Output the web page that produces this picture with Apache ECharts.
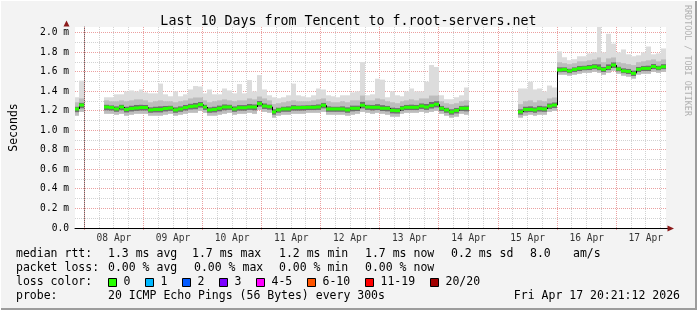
<!DOCTYPE html>
<html><head><meta charset="utf-8">
<script src="https://cdn.jsdelivr.net/npm/echarts@6/dist/echarts.min.js"></script>
<style>html,body{margin:0;padding:0;background:#f3f3f3;}#c{width:697px;height:310px;}</style>
</head><body><div id="c"></div>
<script>
// ---------------- data ----------------
const chartTitle = 'Last 10 Days from Tencent to f.root-servers.net';
const dayLabels = ['08 Apr','09 Apr','10 Apr','11 Apr','12 Apr','13 Apr','14 Apr','15 Apr','16 Apr','17 Apr'];
const dayLabelHours = [12,36,60,84,108,132,156,180,204,228]; // hours after 08 Apr 00:00
const yTickValues = [0,0.2,0.4,0.6,0.8,1.0,1.2,1.4,1.6,1.8,2.0];
const timeStartHour = -3.8, timeEndHour = 236.2;   // 07 Apr ~20:21 .. 17 Apr ~20:21
const binFirstHour = -4, binHours = 2;             // 2-hour consolidated bins
const yMaxMs = 2.06;

// median RTT (ms) per bin
const medianMs = [
 1.22,1.26,null,null,null,null,1.24,1.235,1.22,1.24,
 1.215,1.225,1.23,1.235,1.235,1.21,1.215,1.215,1.225,1.23,
 1.21,1.22,1.235,1.245,1.25,1.265,1.24,1.21,1.215,1.227,
 1.24,1.24,1.22,1.233,1.233,1.24,1.24,1.275,1.25,1.243,
 1.19,1.21,1.22,1.22,1.233,1.233,1.235,1.237,1.237,1.24,
 1.258,1.22,1.22,1.22,1.22,1.21,1.227,1.227,1.258,1.24,
 1.237,1.237,1.227,1.227,1.205,1.202,1.227,1.237,1.237,1.237,
 1.25,1.24,1.255,1.268,1.227,1.21,1.19,1.205,1.227,1.227,
 null,null,null,null,null,null,null,null,null,null,
 1.19,1.215,1.215,1.21,1.223,1.22,1.25,1.26,1.62,1.625,
 1.61,1.625,1.636,1.64,1.645,1.653,1.64,1.626,1.645,1.67,
 1.63,1.61,1.605,1.585,1.626,1.636,1.636,1.655,1.64,1.653
];
// lowest ping (ms)
const minMs = [
 1.15,1.19,null,null,null,null,1.17,1.17,1.16,1.17,
 1.15,1.16,1.17,1.17,1.17,1.15,1.15,1.15,1.16,1.17,
 1.15,1.16,1.17,1.18,1.18,1.20,1.18,1.15,1.15,1.16,
 1.17,1.18,1.16,1.17,1.17,1.18,1.17,1.21,1.19,1.18,
 1.13,1.15,1.16,1.16,1.17,1.17,1.17,1.18,1.18,1.18,
 1.19,1.16,1.16,1.16,1.16,1.15,1.16,1.17,1.19,1.18,
 1.17,1.18,1.17,1.16,1.14,1.14,1.17,1.18,1.18,1.18,
 1.19,1.18,1.19,1.20,1.17,1.15,1.13,1.14,1.17,1.16,
 null,null,null,null,null,null,null,null,null,null,
 1.13,1.15,1.16,1.15,1.16,1.16,1.19,1.20,1.57,1.57,
 1.56,1.57,1.58,1.59,1.59,1.60,1.59,1.57,1.59,1.61,
 1.58,1.56,1.55,1.53,1.57,1.58,1.58,1.60,1.59,1.60
];
// upper edge of the dense smoke (ms)
const upperMs = [
 1.29,1.33,null,null,null,null,1.31,1.30,1.30,1.31,
 1.30,1.31,1.32,1.32,1.31,1.29,1.30,1.31,1.30,1.30,
 1.29,1.30,1.31,1.33,1.34,1.34,1.31,1.29,1.30,1.31,
 1.32,1.31,1.30,1.31,1.31,1.33,1.32,1.35,1.33,1.31,
 1.27,1.28,1.29,1.30,1.31,1.30,1.30,1.30,1.31,1.32,
 1.33,1.30,1.29,1.29,1.30,1.29,1.31,1.31,1.36,1.31,
 1.31,1.33,1.32,1.30,1.29,1.28,1.30,1.31,1.32,1.31,
 1.33,1.33,1.36,1.36,1.30,1.28,1.27,1.28,1.30,1.31,
 null,null,null,null,null,null,null,null,null,null,
 1.27,1.30,1.31,1.29,1.31,1.30,1.33,1.34,1.70,1.69,
 1.68,1.69,1.71,1.71,1.72,1.73,1.75,1.70,1.74,1.75,
 1.70,1.69,1.68,1.67,1.70,1.71,1.72,1.73,1.71,1.73
];
// highest ping (ms)
const maxMs = [
 1.34,1.51,null,null,null,null,1.34,1.34,1.37,1.37,
 1.40,1.41,1.40,1.42,1.39,1.38,1.38,1.48,1.37,1.35,
 1.40,1.35,1.37,1.42,1.455,1.45,1.38,1.42,1.37,1.37,
 1.43,1.41,1.38,1.475,1.38,1.516,1.40,1.567,1.42,1.36,
 1.34,1.33,1.34,1.36,1.48,1.36,1.35,1.34,1.36,1.43,
 1.42,1.36,1.35,1.34,1.36,1.36,1.39,1.40,1.70,1.36,
 1.37,1.53,1.52,1.34,1.40,1.36,1.35,1.40,1.43,1.40,
 1.40,1.50,1.67,1.65,1.36,1.32,1.32,1.34,1.36,1.44,
 null,null,null,null,null,null,null,null,null,null,
 1.43,1.43,1.50,1.42,1.43,1.40,1.46,1.44,1.81,1.75,
 1.72,1.73,1.76,1.76,1.79,1.80,2.06,1.80,1.99,1.89,
 1.80,1.83,1.78,1.76,1.77,1.80,1.86,1.78,1.79,1.84
];

const rttStats = ['1.3 ms avg','1.7 ms max','1.2 ms min','1.7 ms now','0.2 ms sd','8.0','am/s'];
const lossStats = ['0.00 % avg','0.00 % max','0.00 % min','0.00 % now'];
const lossLabels = ['0','1','2','3','4-5','6-10','11-19','20/20'];
const lossColors = ['#26ff00','#00b8ff','#0059ff','#7a00ff','#ff00ff','#ff5500','#ff0000','#a10000'];
const probeText = '20 ICMP Echo Pings (56 Bytes) every 300s';
const stampText = 'Fri Apr 17 20:21:12 2026';

// ---------------- build ----------------
const FONT = '"DejaVu Sans Mono", monospace';
const smokeData = [], medianData = [];
for (let i = 0; i < medianMs.length; i++) {
  if (medianMs[i] == null) continue;
  const t0 = binFirstHour + i * binHours, t1 = t0 + binHours;
  smokeData.push([t0, t1, minMs[i], medianMs[i], upperMs[i], maxMs[i]]);
  const prev = i > 0 && medianMs[i - 1] != null ? medianMs[i - 1] : NaN;
  medianData.push([t0, t1, medianMs[i], prev]);
}
const vGrid = [];
for (let h = 0; h <= timeEndHour; h += 6) vGrid.push([h, h % 24 === 0 ? 1 : 0]);
const hGrid = [];
for (let k = 1; k <= 20; k++) hGrid.push([k / 10, k % 2 === 0 ? 1 : 0]);

const MAJOR = '#eba0a0', MINOR = '#d2d2d2';

function clip(r, cs) {
  return echarts.graphic.clipRectByRect(r, {x: cs.x, y: cs.y, width: cs.width, height: cs.height});
}

const graphics = [];
function txt(x, y, s, extra) {
  graphics.push(Object.assign({type: 'text', x: x, y: y, silent: true,
    style: {text: s, font: '11.5px ' + FONT, fill: '#000', textAlign: 'left', align: 'left',
            textVerticalAlign: 'middle', verticalAlign: 'middle'}}, extra || {}));
}
const rowY = [254, 268, 282, 296];
txt(16, rowY[0], 'median rtt:');
[108, 192, 279, 365, 451, 530, 573].forEach((x, i) => txt(x, rowY[0], rttStats[i]));
txt(16, rowY[1], 'packet loss:');
[108, 194, 279, 365].forEach((x, i) => txt(x, rowY[1], lossStats[i]));
txt(16, rowY[2], 'loss color:');
[108, 145, 182, 219, 256, 307, 365, 430].forEach((x, i) => {
  graphics.push({type: 'rect', silent: true, shape: {x: x + 0.5, y: 278.5, width: 8, height: 8},
    style: {fill: lossColors[i], stroke: '#000', lineWidth: 1}});
  txt(x + 15.5, rowY[2], lossLabels[i]);
});
txt(16, rowY[3], 'probe:');
txt(108, rowY[3], probeText);
graphics.push({type: 'text', x: 680, y: rowY[3], silent: true,
  style: {text: stampText, font: '11.5px ' + FONT, fill: '#000', textAlign: 'right', align: 'right',
          textVerticalAlign: 'middle', verticalAlign: 'middle'}});
graphics.push({type: 'text', x: 687, y: 5, rotation: -Math.PI / 2, silent: true,
  style: {text: 'RRDTOOL / TOBI OETIKER', font: '8.4px ' + FONT, fill: '#b0b0b0', textAlign: 'left', align: 'left',
          textVerticalAlign: 'middle', verticalAlign: 'middle'}});
// axis arrows
graphics.push({type: 'polygon', silent: true, shape: {points: [[66.5, 20.5], [63.5, 26.5], [69.5, 26.5]]}, style: {fill: '#8b1a1a'}});
graphics.push({type: 'line', silent: true, shape: {x1: 666, y1: 228.5, x2: 669, y2: 228.5}, style: {stroke: '#000', lineWidth: 1}});
graphics.push({type: 'polygon', silent: true, shape: {points: [[674, 228.5], [667.5, 225.5], [667.5, 231.5]]}, style: {fill: '#8b1a1a'}});
// frame
graphics.push({type: 'rect', silent: true, shape: {x: 0, y: 308, width: 697, height: 2}, style: {fill: '#9c9c9c'}});
graphics.push({type: 'rect', silent: true, shape: {x: 695, y: 0, width: 2, height: 310}, style: {fill: '#9c9c9c'}});
graphics.push({type: 'rect', silent: true, shape: {x: 0, y: 0, width: 697, height: 1}, style: {fill: '#ffffff'}});
graphics.push({type: 'rect', silent: true, shape: {x: 0, y: 0, width: 1, height: 310}, style: {fill: '#ffffff'}});

const chart = echarts.init(document.getElementById('c'), null, {renderer: 'canvas'});
chart.setOption({
  animation: false,
  backgroundColor: '#f3f3f3',
  title: {text: chartTitle, left: 'center', top: 10,
    textStyle: {fontFamily: FONT, fontSize: 13.3, fontWeight: 'normal', color: '#000'}},
  grid: {left: 66, top: 27, width: 600, height: 201, backgroundColor: '#ffffff', show: true, borderWidth: 0},
  xAxis: {type: 'value', min: timeStartHour, max: timeEndHour,
    axisLine: {show: true, onZero: false, lineStyle: {color: '#000', width: 1}},
    axisTick: {show: false}, axisLabel: {show: false}, splitLine: {show: false}},
  yAxis: {type: 'value', min: 0, max: yMaxMs, interval: 0.2,
    axisLine: {show: true, lineStyle: {color: '#666', width: 1}},
    axisTick: {show: false}, splitLine: {show: false},
    axisLabel: {margin: 6, fontFamily: FONT, fontSize: 9.6, color: '#000',
      formatter: v => v > 2.001 ? '' : (v === 0 ? '0.0' : v.toFixed(1) + ' m')},
    name: 'Seconds', nameLocation: 'middle', nameGap: 55, nameRotate: 90,
    nameTextStyle: {fontFamily: FONT, fontSize: 11.5, color: '#000'}},
  graphic: graphics,
  series: [
    {type: 'custom', name: 'vgrid', z: 1, silent: true, data: vGrid,
      renderItem: (params, api) => {
        const cs = params.coordSys;
        const p = api.coord([api.value(0), 0]);
        const x = Math.floor(p[0]) + 0.5;
        return {type: 'line', shape: {x1: x, y1: cs.y, x2: x, y2: cs.y + cs.height + (api.value(1) ? 3 : 0)},
          style: {stroke: api.value(1) ? MAJOR : MINOR, lineWidth: 1, lineDash: [1, 1]}};
      }},
    {type: 'custom', name: 'hgrid', z: 1, silent: true, data: hGrid,
      renderItem: (params, api) => {
        const cs = params.coordSys;
        const p = api.coord([0, api.value(0)]);
        const y = Math.floor(p[1]) + 0.5;
        return {type: 'line', shape: {x1: cs.x, y1: y, x2: cs.x + cs.width, y2: y},
          style: {stroke: api.value(1) ? MAJOR : MINOR, lineWidth: 1, lineDash: [1, 1]}};
      }},
    {type: 'custom', name: 'smoke', z: 2, silent: true, data: smokeData,
      renderItem: (params, api) => {
        const cs = params.coordSys;
        const t0 = api.value(0), t1 = api.value(1);
        const lo = api.value(2), med = api.value(3), up = api.value(4), hi = api.value(5);
        const a = lo + (med - lo) * 0.5, b = med + (up - med) * 0.35;
        const bands = [[up, hi, '#dcdcdc'], [b, up, '#bdbdbd'], [lo, a, '#bdbdbd'], [a, med, '#6f6f6f'], [med, b, '#6f6f6f']];
        const children = [];
        bands.forEach(bd => {
          const p0 = api.coord([t0, bd[1]]), p1 = api.coord([t1, bd[0]]);
          const x0 = Math.round(p0[0]), x1 = Math.round(p1[0]);
          const r = clip({x: x0, y: p0[1], width: x1 - x0, height: p1[1] - p0[1]}, cs);
          if (r) children.push({type: 'rect', shape: r, style: {fill: bd[2]}});
        });
        return {type: 'group', children: children};
      }},
    {type: 'custom', name: 'median', z: 3, silent: true, data: medianData,
      renderItem: (params, api) => {
        const cs = params.coordSys;
        const t0 = api.value(0), t1 = api.value(1), med = api.value(2), prev = api.value(3);
        const p0 = api.coord([t0, med]), p1 = api.coord([t1, med]);
        const x0 = Math.round(p0[0]), x1 = Math.round(p1[0]);
        const children = [];
        if (!isNaN(prev)) {
          const pp = api.coord([t0, prev]);
          children.push({type: 'line', shape: {x1: x0 + 0.5, y1: pp[1], x2: x0 + 0.5, y2: p0[1]},
            style: {stroke: '#000', lineWidth: 1}});
        }
        const r = clip({x: x0, y: p0[1] - 1.5, width: x1 - x0, height: 3}, cs);
        if (r) children.push({type: 'rect', shape: r, style: {fill: '#26ff00'}});
        return {type: 'group', children: children};
      }},
    {type: 'scatter', name: 'days', z: 4, silent: true, symbolSize: 0,
      data: dayLabelHours.map((h, i) => [h, 0, dayLabels[i]]),
      label: {show: true, position: 'bottom', distance: 5, fontFamily: FONT, fontSize: 9.6, color: '#000',
        formatter: p => p.data[2]}}
  ]
});
</script></body></html>
